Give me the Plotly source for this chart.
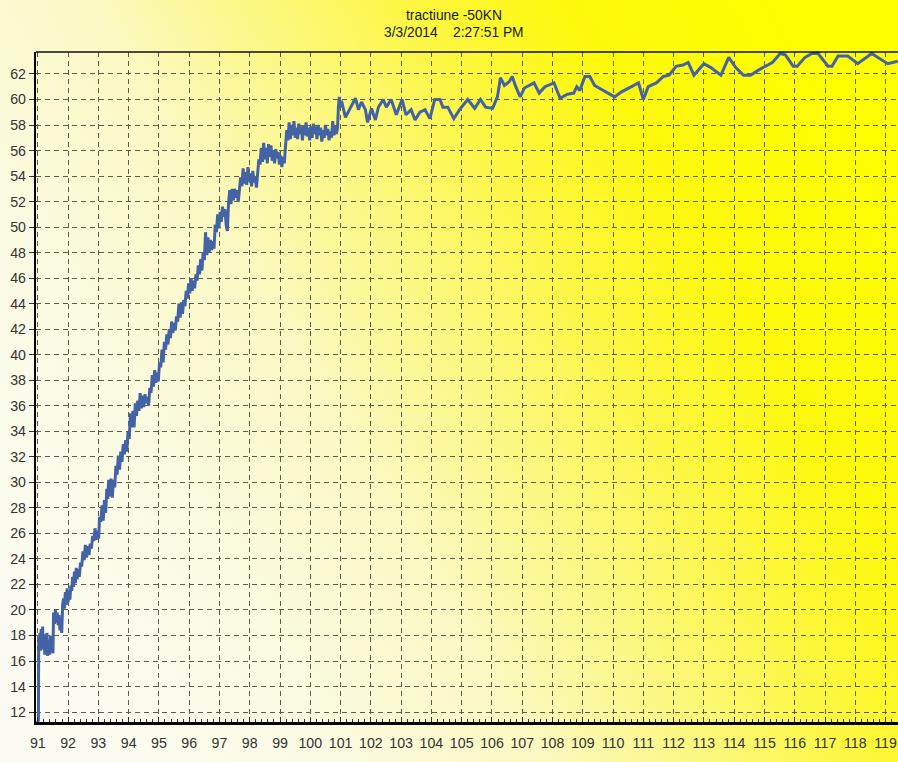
import base64
import plotly.graph_objects as go

# ---------------- data ----------------
title_line1 = "tractiune -50KN"
title_line2 = "3/3/2014\u00a0\u00a0\u00a0 2:27:51 PM"

x_ticks = list(range(91, 120))
y_ticks = list(range(12, 64, 2))

ramp_x = [91.00, 91.02, 91.03, 91.05, 91.07, 91.09, 91.11, 91.13, 91.16, 91.18, 91.20, 91.23, 91.25, 91.28,
          91.30, 91.33, 91.36, 91.39, 91.42, 91.45, 91.48, 91.50, 91.52, 91.55, 91.58, 91.61, 91.64, 91.67,
          91.70, 91.73, 91.76, 91.79, 91.82, 91.85, 91.88, 91.91, 91.94, 91.97, 92.00, 92.03, 92.06, 92.09,
          92.12, 92.15, 92.18, 92.21, 92.24, 92.27, 92.30, 92.33, 92.37, 92.41, 92.45, 92.49, 92.53, 92.57,
          92.61, 92.65, 92.69, 92.73, 92.77, 92.81, 92.85, 92.89, 92.93, 92.97, 93.01, 93.04, 93.08, 93.12,
          93.16, 93.20, 93.24, 93.28, 93.31, 93.34, 93.38, 93.42, 93.46, 93.50, 93.54, 93.58, 93.62, 93.66,
          93.70, 93.74, 93.78, 93.82, 93.86, 93.90, 93.94, 93.98, 94.02, 94.06, 94.10, 94.14, 94.18, 94.22,
          94.26, 94.30, 94.34, 94.38, 94.42, 94.46, 94.50, 94.54, 94.58, 94.62, 94.66, 94.70, 94.74, 94.78,
          94.82, 94.86, 94.90, 94.94, 94.98, 95.02, 95.06, 95.10, 95.14, 95.18, 95.22, 95.26, 95.30, 95.34,
          95.38, 95.42, 95.46, 95.50, 95.54, 95.58, 95.62, 95.66, 95.70, 95.74, 95.78, 95.82, 95.86, 95.90,
          95.94, 95.98, 96.02, 96.06, 96.10, 96.14, 96.18, 96.22, 96.26]
ramp_y = [11.2, 11.4, 18.0, 17.1, 18.2, 16.8, 18.5, 17.0, 18.7, 16.9, 18.1, 16.5, 17.8, 16.6,
          18.2, 16.4, 17.6, 16.5, 18.0, 16.7, 17.5, 16.6, 19.8, 18.9, 20.0, 19.0, 19.8, 18.8,
          19.6, 18.4, 19.3, 18.2, 20.4, 20.9, 20.1, 21.4, 20.4, 21.7, 20.6, 21.5, 20.8, 21.9,
          21.5, 22.6, 21.8, 23.0, 22.1, 23.3, 22.4, 23.2, 22.6, 23.7, 23.4, 24.6, 23.9, 25.1,
          24.1, 25.0, 24.3, 25.2, 24.8, 25.8, 25.4, 26.4, 25.5, 26.2, 25.6, 27.3, 26.9, 28.2,
          27.0, 28.6, 27.6, 29.5, 28.7, 30.2, 28.9, 30.3, 28.8, 30.2, 29.6, 31.3, 30.6, 32.1,
          31.0, 32.4, 31.6, 33.0, 32.2, 33.3, 32.4, 34.0, 33.4, 35.4, 34.3, 35.6, 34.3, 36.2,
          35.2, 36.4, 35.6, 37.0, 35.8, 36.8, 35.9, 36.9, 36.2, 36.7, 36.0, 37.4, 37.0, 38.4,
          37.5, 38.8, 37.8, 38.6, 37.9, 39.4, 39.0, 40.4, 39.4, 41.0, 40.4, 41.6, 40.8, 42.0,
          41.3, 42.6, 41.7, 42.5, 41.9, 43.0, 42.6, 44.0, 42.9, 44.1, 43.2, 44.3, 43.8, 45.0,
          44.4, 45.6, 44.8, 46.0, 45.0, 45.8, 45.2, 46.3, 45.8]

upper_x = [96.30, 96.34, 96.38, 96.42, 96.46, 96.50, 96.54, 96.58, 96.62, 96.66, 96.70, 96.74, 96.78,
           96.82, 96.86, 96.90, 96.94, 96.98, 97.02, 97.06, 97.10, 97.14, 97.18, 97.22, 97.26, 97.30,
           97.34, 97.38, 97.42, 97.46, 97.50, 97.54, 97.58, 97.62, 97.66, 97.70, 97.74, 97.78, 97.82,
           97.86, 97.90, 97.94, 97.98, 98.02, 98.06, 98.10, 98.14, 98.18, 98.22, 98.26, 98.30, 98.34,
           98.38, 98.42, 98.46, 98.50, 98.54, 98.58, 98.62, 98.66, 98.70, 98.74, 98.78, 98.82, 98.86,
           98.90, 98.94, 98.98, 99.02, 99.06, 99.10, 99.14, 99.18, 99.22, 99.26, 99.30, 99.34, 99.38,
           99.42, 99.46, 99.50, 99.54, 99.58, 99.62, 99.66, 99.70, 99.74, 99.78, 99.82, 99.86, 99.90,
           99.94, 99.98, 100.02, 100.06, 100.10, 100.14, 100.18, 100.22, 100.26, 100.30, 100.34, 100.38,
           100.42, 100.46, 100.50, 100.54, 100.58, 100.62, 100.66, 100.70, 100.74, 100.78, 100.82,
           100.86, 100.90, 100.93, 100.96, 100.99]
upper_y = [47.0, 46.3, 47.5, 46.6, 48.0, 47.4, 49.6, 47.8, 49.2, 48.0, 49.0, 48.2, 48.9,
           48.3, 50.2, 49.6, 51.0, 49.9, 51.2, 50.4, 51.6, 50.8, 51.4, 50.2, 49.7, 51.9,
           52.9, 51.8, 53.0, 52.1, 53.0, 52.3, 52.9, 52.0, 53.2, 53.9, 53.2, 54.6, 53.4,
           54.3, 53.3, 54.7, 53.6, 54.2, 53.2, 54.4, 53.5, 54.0, 53.1, 54.2, 55.3, 54.9,
           56.2, 55.1, 56.6, 55.3, 56.2, 55.0, 56.5, 55.5, 56.4, 55.2, 56.0, 55.0, 56.1,
           55.4, 55.9, 54.9, 55.6, 54.7, 55.5, 55.0, 56.0, 57.6, 56.8, 58.2, 56.9, 58.0,
           57.2, 58.3, 57.0, 57.8, 56.9, 58.1, 57.3, 57.9, 56.8, 58.0, 57.2, 58.2, 57.1,
           57.8, 56.8, 57.9, 57.0, 58.1, 57.3, 57.9, 56.9, 58.0, 57.2, 57.8, 56.7,
           57.6, 57.0, 58.0, 57.2, 57.7, 56.8, 57.5, 57.0, 58.3, 57.2, 57.9,
           57.3, 57.8, 59.5, 60.2, 59.4]

plateau_x = [101.03, 101.16, 101.33, 101.49, 101.59, 101.69, 101.82, 101.89, 102.02, 102.15, 102.25,
             102.41, 102.51, 102.67, 102.84, 103.03, 103.16, 103.33, 103.46, 103.62, 103.79, 103.95,
             104.11, 104.28, 104.38, 104.54, 104.74, 104.93, 105.20, 105.43, 105.62, 105.79, 106.02,
             106.18, 106.28, 106.41, 106.57, 106.67, 106.77, 106.93, 107.07, 107.26, 107.39, 107.56,
             107.75, 108.05, 108.25, 108.48, 108.70, 108.80, 108.90, 109.07, 109.23, 109.39, 109.69,
             110.05, 110.28, 110.51, 110.84, 111.00, 111.16, 111.43, 111.66, 111.85, 112.08, 112.31,
             112.48, 112.67, 113.00, 113.23, 113.56, 113.82, 114.05, 114.31, 114.54, 114.80, 115.03,
             115.26, 115.52, 115.69, 115.95, 116.08, 116.34, 116.57, 116.77, 117.10, 117.23, 117.43,
             117.75, 118.08, 118.54, 118.74, 119.07, 119.23, 119.40]
plateau_y = [59.9, 58.6, 59.4, 60.1, 59.2, 59.8, 59.2, 58.2, 59.3, 58.4, 59.4,
             60.0, 59.4, 60.0, 58.8, 60.0, 58.8, 59.2, 58.4, 59.0, 59.2, 58.5,
             60.0, 60.0, 59.4, 59.4, 58.5, 59.2, 60.0, 59.3, 60.0, 59.4, 59.3,
             60.2, 61.7, 61.1, 61.4, 61.8, 61.1, 60.2, 60.9, 61.1, 61.3, 60.5,
             61.0, 61.3, 60.1, 60.4, 60.5, 61.0, 60.7, 61.8, 61.8, 61.1, 60.7,
             60.2, 60.6, 60.9, 61.3, 60.0, 61.0, 61.3, 61.8, 61.9, 62.6, 62.7,
             62.9, 61.9, 62.8, 62.5, 61.9, 63.3, 62.5, 61.9, 61.9, 62.3, 62.6,
             62.9, 63.6, 63.5, 62.6, 62.6, 63.3, 63.6, 63.6, 62.6, 62.6, 63.4,
             63.4, 62.8, 63.6, 63.3, 62.8, 62.9, 63.0]

series_x = ramp_x + upper_x + plateau_x
series_y = ramp_y + upper_y + plateau_y

# ---------------- background gradient ----------------
svg = (
    '<svg xmlns="http://www.w3.org/2000/svg" width="898" height="762" preserveAspectRatio="none">'
    '<defs><linearGradient id="g" x1="0" y1="0.75" x2="1" y2="0.25">'
    '<stop offset="0" stop-color="#fcfcf2"/>'
    '<stop offset="0.20" stop-color="#fbfbe2"/>'
    '<stop offset="0.38" stop-color="#fbf9c2"/>'
    '<stop offset="0.52" stop-color="#fcf884"/>'
    '<stop offset="0.66" stop-color="#fdf744"/>'
    '<stop offset="0.80" stop-color="#fef90c"/>'
    '<stop offset="1" stop-color="#ffff00"/>'
    '</linearGradient></defs>'
    '<rect width="898" height="762" fill="url(#g)"/></svg>'
)
bg_src = "data:image/svg+xml;base64," + base64.b64encode(svg.encode()).decode()

W, H = 898, 762
ML, MR, MT, MB = 36, 0, 52, 40
pw, ph = W - ML - MR, H - MT - MB

fig = go.Figure()
fig.add_trace(go.Scatter(
    x=series_x, y=series_y, mode="lines",
    line=dict(color="#4462a6", width=3),
    hoverinfo="skip", showlegend=False,
))

fig.add_layout_image(dict(
    source=bg_src, xref="paper", yref="paper",
    x=-ML / pw, y=1 + MT / ph, sizex=W / pw, sizey=H / ph,
    xanchor="left", yanchor="top", sizing="stretch", layer="below",
))

# thin top border
fig.add_shape(type="line", xref="paper", yref="paper", x0=0, x1=1, y0=1, y1=1,
              line=dict(color="#111111", width=1.4))

fig.add_annotation(text=title_line1, xref="paper", yref="paper",
                   x=(454 - ML) / pw, y=1 + (MT - 15) / ph, showarrow=False,
                   xanchor="center", yanchor="middle",
                   font=dict(family="Liberation Sans, Arial", size=13.8, color="#1a1a1a"))
fig.add_annotation(text=title_line2, xref="paper", yref="paper",
                   x=(454 - ML) / pw, y=1 + (MT - 33) / ph, showarrow=False,
                   xanchor="center", yanchor="middle",
                   font=dict(family="Liberation Sans, Arial", size=13.8, color="#1a1a1a"))

grid_col = "#5e5e48"
fig.update_xaxes(
    range=[90.94, 119.41], tickmode="array", tickvals=x_ticks, ticktext=[str(v) for v in x_ticks],
    showgrid=True, gridcolor=grid_col, griddash="5px,4px", gridwidth=1,
    showline=True, linecolor="#000000", linewidth=2.6,
    ticks="inside", ticklen=5, tickcolor="#333333", tickwidth=1,
    minor=dict(ticks="inside", ticklen=3, tickcolor="#333333", dtick=0.2, tick0=91, showgrid=False),
    ticklabelstandoff=6, automargin=False, ticklabeloverflow="allow",
    tickfont=dict(family="Liberation Sans, Arial", size=14.2, color="#333333"),
    zeroline=False, fixedrange=True,
)
fig.update_yaxes(
    range=[11.22, 63.72], tickmode="array", tickvals=y_ticks, ticktext=[str(v) for v in y_ticks],
    showgrid=True, gridcolor=grid_col, griddash="5px,4px", gridwidth=1,
    showline=True, linecolor="#000000", linewidth=2.4,
    ticks="outside", ticklen=5, tickcolor="#333333", tickwidth=1,
    automargin=False, ticklabeloverflow="allow",
    tickfont=dict(family="Liberation Sans, Arial", size=14.2, color="#333333"),
    zeroline=False, fixedrange=True,
)

fig.update_layout(
    width=W, height=H, margin=dict(l=ML, r=MR, t=MT, b=MB, pad=0, autoexpand=False),
    paper_bgcolor="rgba(0,0,0,0)", plot_bgcolor="rgba(0,0,0,0)",
    showlegend=False,
)

fig.write_html(
    "out.html",
    config={"displayModeBar": False},
    post_script="document.body.style.margin='0';document.body.style.overflow='hidden';",
)
